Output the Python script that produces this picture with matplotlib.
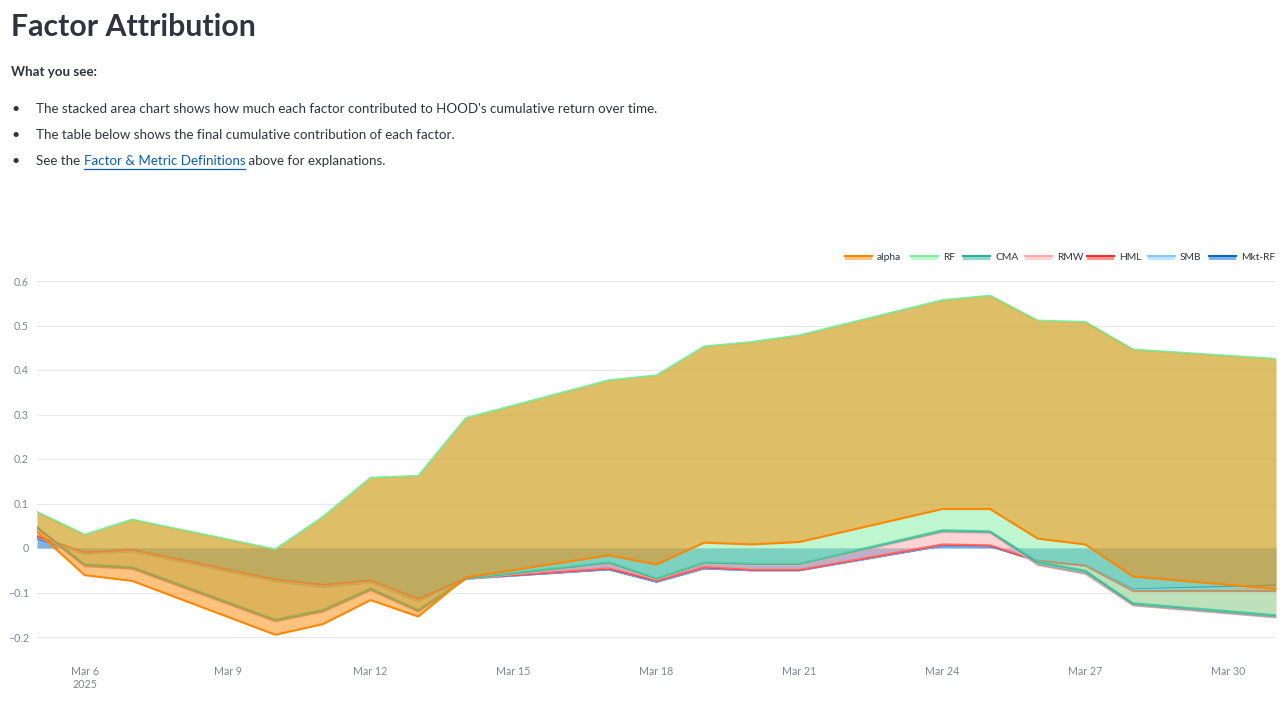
import matplotlib
matplotlib.use("Agg")
import matplotlib.pyplot as plt
import matplotlib.dates as mdates
from matplotlib.patches import Rectangle
from matplotlib.lines import Line2D
import numpy as np
import pandas as pd

# ---------------- data ----------------
dates = ["2025-03-05", "2025-03-06", "2025-03-07", "2025-03-10", "2025-03-11",
         "2025-03-12", "2025-03-13", "2025-03-14", "2025-03-17", "2025-03-18",
         "2025-03-19", "2025-03-20", "2025-03-21", "2025-03-24", "2025-03-25",
         "2025-03-26", "2025-03-27", "2025-03-28", "2025-03-31"]

mkt_rf = [0.022, -0.013, -0.0075, -0.075, -0.088, -0.077, -0.120, -0.069, -0.048, -0.076,
          -0.046, -0.050, -0.050, 0.005, 0.004, -0.029, -0.040, -0.093, -0.084]
smb = [0.002, 0.001, 0.001, 0.001, 0.002, 0.001, 0.002, 0.0, 0.001, 0.001,
       0.001, 0.0, 0.0, 0.001, 0.001, 0.0, 0.0, -0.002, -0.004]
hml = [0.003, 0.002, 0.0025, 0.003, 0.003, 0.003, 0.003, 0.001, 0.001, 0.002,
       0.002, 0.001, 0.001, 0.002, 0.001, 0.0, 0.0, -0.002, -0.009]
rmw = [0.016, -0.031, -0.043, -0.094, -0.060, -0.022, -0.028, -0.002, 0.011, 0.003,
       0.008, 0.012, 0.012, 0.028, 0.028, -0.009, -0.018, -0.032, -0.059]
cma = [0.004, 0.004, 0.004, 0.004, 0.004, 0.004, 0.004, 0.002, 0.003, 0.002,
       0.003, 0.002, 0.002, 0.004, 0.0035, 0.007, 0.007, 0.005, 0.005]
rf = [0.034, 0.067, 0.107, 0.158, 0.209, 0.249, 0.301, 0.360, 0.409, 0.456,
      0.485, 0.498, 0.513, 0.517, 0.5295, 0.542, 0.559, 0.570, 0.576]
alpha = [-0.045, -0.091, -0.138, -0.192, -0.241, -0.275, -0.316, -0.358, -0.3935, -0.425,
         -0.441, -0.455, -0.4645, -0.4694, -0.4794, -0.490, -0.500, -0.510, -0.517]

factor_names = ["Mkt-RF", "SMB", "HML", "RMW", "CMA", "RF", "alpha"]
factor_values = [mkt_rf, smb, hml, rmw, cma, rf, alpha]
factor_colors = ["#0068c9", "#83c9ff", "#ff2b2b", "#ffabab", "#29b09d", "#7defa1", "#ff8700"]

y_ticks = [-0.2, -0.1, 0, 0.1, 0.2, 0.3, 0.4, 0.5, 0.6]

# ---------------- figure ----------------
W, H = 1288, 702
fig = plt.figure(figsize=(W / 100, H / 100), dpi=100)
fig.patch.set_facecolor("white")

FONT = ["Lato", "DejaVu Sans"]
TXT = "#31333F"
BODY = 13.4


def fx(px):
    return px / W


def fy(py):
    return 1 - py / H


def pt(px):
    return px * 72 / 100


# header texts
fig.text(fx(11), fy(27), "Factor Attribution", fontsize=pt(30.2), fontweight="bold",
         color=TXT, family=FONT, va="center", ha="left")
fig.text(fx(11), fy(72), "What you see:", fontsize=pt(BODY), fontweight="bold",
         color=TXT, family=FONT, va="center", ha="left")

bullets = [
    "The stacked area chart shows how much each factor contributed to HOOD's cumulative return over time.",
    "The table below shows the final cumulative contribution of each factor.",
]
for i, b in enumerate(bullets):
    yy = 109 + 26 * i
    fig.text(fx(16), fy(yy), "•", fontsize=pt(14), color=TXT, family=FONT, va="center", ha="center")
    fig.text(fx(36), fy(yy), b, fontsize=pt(BODY), color=TXT, family=FONT, va="center", ha="left")

yy = 161
fig.text(fx(16), fy(yy), "•", fontsize=pt(14), color=TXT, family=FONT, va="center", ha="center")
renderer = fig.canvas.get_renderer()
t1 = fig.text(fx(36), fy(yy), "See the ", fontsize=pt(BODY), color=TXT, family=FONT, va="center", ha="left")
bb1 = t1.get_window_extent(renderer)
t2 = fig.text(bb1.x1 / W, fy(yy), "Factor & Metric Definitions", fontsize=pt(BODY), color="#0b5cb5",
              family=FONT, va="center", ha="left")
bb2 = t2.get_window_extent(renderer)
fig.add_artist(Line2D([bb2.x0 / W, bb2.x1 / W], [fy(yy + 7.5), fy(yy + 7.5)], color="#0b5cb5", lw=0.9))
fig.text(bb2.x1 / W, fy(yy), " above for explanations.", fontsize=pt(BODY), color=TXT, family=FONT,
         va="center", ha="left")

# ---------------- axes ----------------
ymin, ymax = -0.225, 0.628
top_px = 548 - ymax * 445
bot_px = 548 - ymin * 445
ax = fig.add_axes([fx(37), fy(bot_px), (1276 - 37) / W, (bot_px - top_px) / H])
ax.set_facecolor("white")

x = pd.to_datetime(dates)
prev = np.zeros(len(dates))
z = 2
for name, vals, col in zip(factor_names, factor_values, factor_colors):
    cur = prev + np.array(vals)
    ax.fill_between(x, prev, cur, color=col, alpha=0.5, lw=0, zorder=z)
    ax.plot(x, cur, color=col, lw=1.5, zorder=z + 1, solid_joinstyle="round")
    prev = cur
    z += 2

ax.set_xlim(x[0], x[-1])
ax.set_ylim(ymin, ymax)
for s in ax.spines.values():
    s.set_visible(False)
ax.set_yticks(y_ticks)
ax.set_yticklabels([("\u2212" if v < 0 else "") + (f"{abs(v):g}") for v in y_ticks])
ax.grid(axis="y", color="#e6e9ef", lw=0.8, zorder=0)
ax.set_axisbelow(True)

xt = pd.date_range("2025-03-06", "2025-03-30", freq="3D")
ax.set_xticks(xt)
labels = [f"{d:%b} {d.day}" for d in xt]
labels[0] = labels[0] + "\n2025"
ax.set_xticklabels(labels)
ax.tick_params(axis="both", length=0, labelsize=pt(10.6), labelcolor="#808495")
ax.tick_params(axis="x", pad=pt(17.5))
ax.tick_params(axis="y", pad=pt(8))
for lab in ax.get_xticklabels() + ax.get_yticklabels():
    lab.set_family(FONT)
for lab in ax.get_xticklabels():
    lab.set_linespacing(1.3)
    lab.set_va("top")

# ---------------- legend (manual, plotly style) ----------------
leg_items = [("alpha", 845), ("RF", 911), ("CMA", 963), ("RMW", 1025), ("HML", 1087),
             ("SMB", 1148), ("Mkt-RF", 1209)]
col_map = dict(zip(factor_names, factor_colors))
for name, x0 in leg_items:
    c = col_map[name]
    fig.add_artist(Rectangle((fx(x0), fy(260)), 27 / W, 5 / H, facecolor=c, alpha=0.5,
                             lw=0, transform=fig.transFigure))
    fig.add_artist(Line2D([fx(x0), fx(x0 + 27)], [fy(255.5), fy(255.5)], color=c, lw=1.5))
    fig.text(fx(x0 + 32), fy(257.5), name, fontsize=pt(10.2), color=TXT, family=FONT,
             va="center", ha="left")

fig.savefig("out.png", dpi=100, facecolor="white")
